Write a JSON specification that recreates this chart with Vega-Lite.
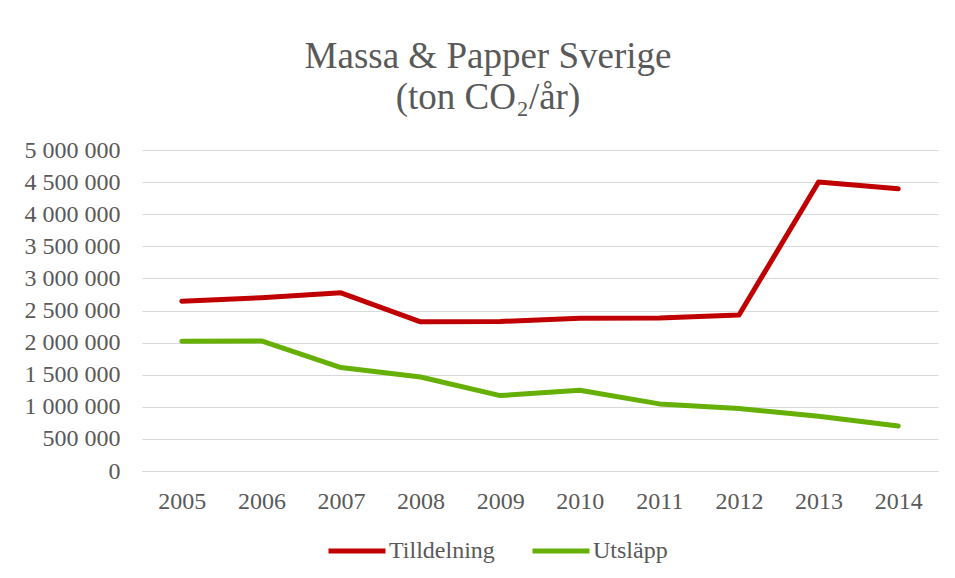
{
  "$schema": "https://vega.github.io/schema/vega-lite/v6.json",
  "autosize": "none",
  "width": 796,
  "height": 321,
  "padding": {"left": 142, "top": 150, "right": 17, "bottom": 107},
  "background": "white",
  "title": {
    "text": ["Massa & Papper Sverige", "(ton CO₂/år)"],
    "font": "Liberation Serif",
    "fontSize": 37,
    "fontWeight": "normal",
    "color": "#595959",
    "lineHeight": 41,
    "anchor": "middle",
    "dx": -52,
    "offset": 21
  },
  "data": {
    "values": [
      {"year": "2005", "series": "Tilldelning", "value": 2645000},
      {"year": "2006", "series": "Tilldelning", "value": 2700000},
      {"year": "2007", "series": "Tilldelning", "value": 2775000},
      {"year": "2008", "series": "Tilldelning", "value": 2323000},
      {"year": "2009", "series": "Tilldelning", "value": 2329000},
      {"year": "2010", "series": "Tilldelning", "value": 2381000},
      {"year": "2011", "series": "Tilldelning", "value": 2385000},
      {"year": "2012", "series": "Tilldelning", "value": 2430000},
      {"year": "2013", "series": "Tilldelning", "value": 4501000},
      {"year": "2014", "series": "Tilldelning", "value": 4397000},
      {"year": "2005", "series": "Utsläpp", "value": 2022000},
      {"year": "2006", "series": "Utsläpp", "value": 2025000},
      {"year": "2007", "series": "Utsläpp", "value": 1612000},
      {"year": "2008", "series": "Utsläpp", "value": 1465000},
      {"year": "2009", "series": "Utsläpp", "value": 1175000},
      {"year": "2010", "series": "Utsläpp", "value": 1258000},
      {"year": "2011", "series": "Utsläpp", "value": 1045000},
      {"year": "2012", "series": "Utsläpp", "value": 973000},
      {"year": "2013", "series": "Utsläpp", "value": 853000},
      {"year": "2014", "series": "Utsläpp", "value": 702000}
    ]
  },
  "mark": {"type": "line", "strokeWidth": 5, "strokeCap": "round", "strokeJoin": "round"},
  "encoding": {
    "x": {
      "field": "year",
      "type": "ordinal",
      "scale": {"type": "point", "padding": 0.5},
      "axis": {
        "title": null,
        "labelAngle": 0,
        "ticks": false,
        "domain": true,
        "domainColor": "#d9d9d9",
        "domainWidth": 1,
        "labelPadding": 18,
        "labelFont": "Liberation Serif",
        "labelFontSize": 24,
        "labelColor": "#595959",
        "grid": false
      }
    },
    "y": {
      "field": "value",
      "type": "quantitative",
      "scale": {"domain": [0, 5000000], "nice": false},
      "axis": {
        "title": null,
        "values": [0, 500000, 1000000, 1500000, 2000000, 2500000, 3000000, 3500000, 4000000, 4500000, 5000000],
        "format": ",d",
        "ticks": false,
        "domain": false,
        "gridColor": "#d9d9d9",
        "gridWidth": 1,
        "labelPadding": 22,
        "labelFont": "Liberation Serif",
        "labelFontSize": 24,
        "labelColor": "#595959"
      }
    },
    "color": {
      "field": "series",
      "type": "nominal",
      "scale": {"domain": ["Tilldelning", "Utsläpp"], "range": ["#C00000", "#66B006"]},
      "legend": {
        "title": null,
        "orient": "none",
        "legendX": 184,
        "legendY": 370,
        "direction": "horizontal",
        "labelFont": "Liberation Serif",
        "labelFontSize": 24,
        "labelColor": "#595959",
        "symbolType": "stroke",
        "symbolStrokeWidth": 5,
        "symbolSize": 3249,
        "columnPadding": 27,
        "labelOffset": 1
      }
    }
  },
  "config": {
    "locale": {"number": {"decimal": ",", "thousands": " ", "grouping": [3], "currency": ["", " kr"]}},
    "view": {"stroke": null}
  }
}
